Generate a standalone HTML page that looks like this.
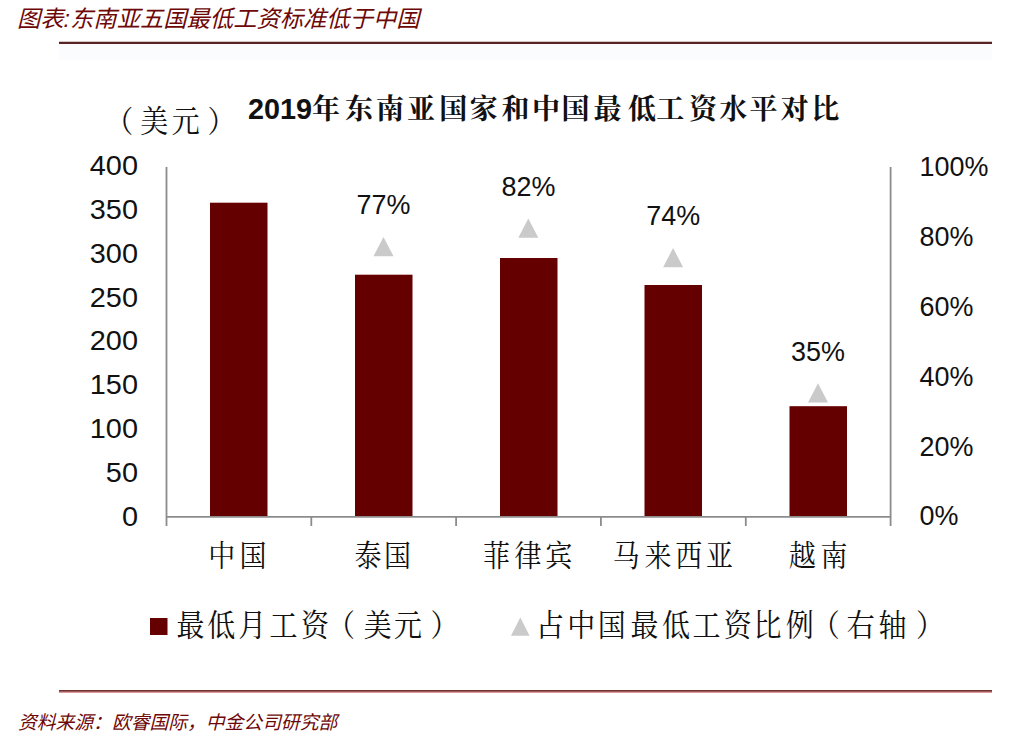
<!DOCTYPE html>
<html lang="zh-CN">
<head>
<meta charset="utf-8">
<title>图表:东南亚五国最低工资标准低于中国</title>
<style>
html,body{margin:0;padding:0;background:#fff;}
body{width:1010px;height:744px;position:relative;overflow:hidden;}
.t{position:absolute;white-space:nowrap;line-height:1;}
#title{left:17px;top:8px;font-family:"Liberation Sans","Noto Sans CJK SC",sans-serif;font-style:italic;font-weight:400;font-size:23.3px;color:#6e0808;}
#src{left:18px;top:714px;font-family:"Liberation Sans","Noto Sans CJK SC",sans-serif;font-style:italic;font-weight:400;font-size:18.8px;color:#6e0808;}
#l1{position:absolute;left:59px;top:41px;width:933px;height:3px;background:linear-gradient(#d2c6c6 0,#d2c6c6 33%,#5a2424 33%,#5a2424 100%);}
#l2{position:absolute;left:59px;top:690px;width:933px;height:3px;background:linear-gradient(#753030 0,#753030 33%,#9c5a5a 33%,#9c5a5a 66%,#dc9c9c 66%);}
svg{position:absolute;left:0;top:0;}
#tint{position:absolute;left:59px;top:44px;width:933px;height:16px;background:#fbfcfd;}
.num{font-family:"Liberation Sans",sans-serif;font-size:27px;fill:#111;}
.pct{font-size:27.8px;}
.kai{font-family:"Liberation Serif","Noto Serif CJK SC",serif;fill:#111;}
</style>
</head>
<body>
<div class="t" id="title">图表:东南亚五国最低工资标准低于中国</div>
<div id="l1"></div>
<div id="tint"></div>
<svg width="1010" height="744" viewBox="0 0 1010 744">
  <!-- chart title -->
  <text x="248" y="119" font-family="Liberation Sans, sans-serif" font-weight="bold" font-size="28.8" fill="#111">2019</text>
  <text x="311.9 345.0 375.9 407.1 439.2 469.7 501.4 532.1 561.4 593.5 628.0 656.3 689.0 719.3 749.4 780.6 811.3" y="118.7" class="kai" font-weight="bold" font-size="28">年东南亚国家和中国最低工资水平对比</text>
  <text x="105.3 140.2 171.8 207.4" y="131.5" class="kai" font-size="28" transform="translate(0,121) scale(1,1.08) translate(0,-121)">（美元）</text>
  <!-- left axis labels -->
  <g class="num" text-anchor="end" transform="translate(138,0) scale(1.07,1) translate(-138,0)">
    <text x="138" y="175.0">400</text>
    <text x="138" y="218.9">350</text>
    <text x="138" y="262.8">300</text>
    <text x="138" y="306.6">250</text>
    <text x="138" y="350.5">200</text>
    <text x="138" y="394.4">150</text>
    <text x="138" y="438.2">100</text>
    <text x="138" y="482.1">50</text>
    <text x="138" y="526.0">0</text>
  </g>
  <!-- right axis labels -->
  <g class="num pct" transform="translate(919.5,0) scale(0.97,1) translate(-919.5,0)">
    <text x="919.5" y="176">100%</text>
    <text x="919.5" y="245.9">80%</text>
    <text x="919.5" y="315.8">60%</text>
    <text x="919.5" y="385.7">40%</text>
    <text x="919.5" y="455.6">20%</text>
    <text x="919.5" y="525.5">0%</text>
  </g>
  <!-- bars -->
  <g fill="#640000">
    <rect x="210" y="202.7" width="57.5" height="313.8"/>
    <rect x="355" y="274.7" width="57.5" height="241.8"/>
    <rect x="500" y="258" width="57.5" height="258.5"/>
    <rect x="644.5" y="285" width="57.5" height="231.5"/>
    <rect x="789.5" y="406.2" width="57.5" height="110.3"/>
  </g>
  <!-- axes -->
  <g stroke="#8c8c8c" stroke-width="1.8" fill="none">
    <line x1="166.5" y1="167" x2="166.5" y2="526"/>
    <line x1="890.6" y1="167" x2="890.6" y2="526"/>
    <line x1="166.5" y1="516.8" x2="890.6" y2="516.8"/>
    <line x1="311.3" y1="516.8" x2="311.3" y2="526"/>
    <line x1="456.1" y1="516.8" x2="456.1" y2="526"/>
    <line x1="600.9" y1="516.8" x2="600.9" y2="526"/>
    <line x1="745.8" y1="516.8" x2="745.8" y2="526"/>
  </g>
  <!-- triangles -->
  <g fill="#cacaca">
    <polygon points="383.5,237 393.5,256.2 373.5,256.2"/>
    <polygon points="528.3,218.4 538.3,237.7 518.3,237.7"/>
    <polygon points="673.1,248 683.1,267.2 663.1,267.2"/>
    <polygon points="818,383.3 828,402.5 808,402.5"/>
  </g>
  <!-- value labels -->
  <g class="num pct" text-anchor="middle">
    <text x="383.6" y="214.5" transform="translate(383.6,0) scale(0.97,1) translate(-383.6,0)">77%</text>
    <text x="528.4" y="196" transform="translate(528.4,0) scale(0.97,1) translate(-528.4,0)">82%</text>
    <text x="673.2" y="225.2" transform="translate(673.2,0) scale(0.97,1) translate(-673.2,0)">74%</text>
    <text x="818" y="361" transform="translate(818,0) scale(0.97,1) translate(-818,0)">35%</text>
  </g>
  <!-- categories -->
  <g class="kai" font-size="27" transform="translate(0,555) scale(1,1.1) translate(0,-555)">
    <text x="208.3 239.4" y="565.1">中国</text>
    <text x="354.4 384.1" y="565.2">泰国</text>
    <text x="482.9 514.4 545.2" y="565.3">菲律宾</text>
    <text x="612.7 644.5 675.2 705.9" y="565.3">马来西亚</text>
    <text x="788.7 820.4" y="565.3">越南</text>
  </g>
  <!-- legend -->
  <rect x="150" y="618" width="17.5" height="17" fill="#640000"/>
  <text x="176.4 207.3 238.3 269.6 301.1 327.1 363.7 394.0 430.4" y="635.3" class="kai" font-size="28" transform="translate(0,625) scale(1,1.1) translate(0,-625)">最低月工资（美元）</text>
  <polygon points="520.3,617.4 529.6,635.7 511,635.7" fill="#cacaca"/>
  <text x="536.0 567.2 597.8 630.5 661.9 692.6 723.7 753.5 785.7 811.7 846.8 878.6 916.0" y="635.3" class="kai" font-size="28" transform="translate(0,625) scale(1,1.1) translate(0,-625)">占中国最低工资比例（右轴）</text>
</svg>
<div id="l2"></div>
<div class="t" id="src">资料来源：欧睿国际，中金公司研究部</div>
</body>
</html>
